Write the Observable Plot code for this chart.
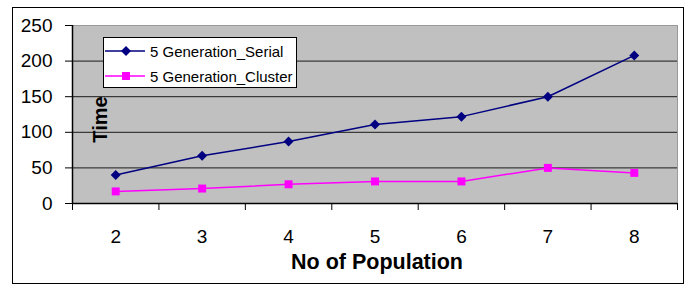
<!DOCTYPE html>
<html>
<head>
<meta charset="utf-8">
<script src="https://cdn.jsdelivr.net/npm/d3@7"></script>
<script src="https://cdn.jsdelivr.net/npm/@observablehq/plot@0.6"></script>
<style>
  body { margin: 0; background: #fff; font-family: "Liberation Sans", Arial, sans-serif; }
  #wrap { position: relative; width: 688px; height: 285px; }
  #border { position: absolute; left: 12px; top: 7px; width: 670px; height: 275px; border: 1.5px solid #000; pointer-events: none; }
  #legend { position: absolute; left: 103px; top: 37px; width: 192px; height: 49px; background: #fff; border: 1px solid #000; font-size: 15px; }
  .row { position: absolute; left: 1px; height: 16px; display: flex; align-items: center; }
  .row span { margin-left: 5px; color: #000; white-space: nowrap; }
</style>
</head>
<body>
<div id="wrap">
  <div id="chart"></div>
  <div id="border"></div>
  <div id="legend"></div>
</div>
<script>
const populations = [2, 3, 4, 5, 6, 7, 8];
const serialTimes = [40, 67, 87, 111, 122, 150, 208];
const clusterTimes = [17, 21, 27, 31, 31, 50, 43];
const yTicks = [0, 50, 100, 150, 200, 250];
const seriesNames = ["5 Generation_Serial", "5 Generation_Cluster"];
const seriesColors = ["#000080", "#ff00ff"];
const seriesSymbols = ["diamond2", "square"];

const rows = [];
populations.forEach((p, i) => {
  rows.push({pop: p, time: serialTimes[i], series: seriesNames[0]});
  rows.push({pop: p, time: clusterTimes[i], series: seriesNames[1]});
});
const serial = rows.filter(d => d.series === seriesNames[0]);
const cluster = rows.filter(d => d.series === seriesNames[1]);
const boundaries = [populations[0] - 0.5, ...populations.map(p => p + 0.5)];
const lo = populations[0] - 0.5, hi = populations[populations.length - 1] + 0.5;

const chart = Plot.plot({
  width: 688,
  height: 285,
  marginLeft: 72,
  marginTop: 25,
  marginRight: 11,
  marginBottom: 82,
  style: {fontFamily: "'Liberation Sans', Arial, sans-serif", background: "transparent", overflow: "visible"},
  x: {domain: [lo, hi], axis: null},
  y: {domain: [0, 250], axis: null},
  marks: [
    Plot.frame({fill: "#c0c0c0", stroke: "#9a9a9a"}),
    Plot.ruleY(yTicks.filter(t => t > 0 && t < 250), {stroke: "#1a1a1a", strokeWidth: 1}),
    Plot.ruleX([lo], {stroke: "#000", strokeWidth: 1.5}),
    Plot.ruleY([0], {stroke: "#000", strokeWidth: 1.5}),
    Plot.axisY({ticks: yTicks, tickSize: 7, tickPadding: 13, fontSize: 19, label: null, tickFormat: d => d, stroke: "#000"}),
    Plot.axisX(boundaries, {tickSize: 7, text: null, label: null, stroke: "#000"}),
    Plot.axisX(populations, {tickSize: 0, tickPadding: 26, fontSize: 19, label: null, tickFormat: d => d}),
    Plot.line(serial, {x: "pop", y: "time", stroke: seriesColors[0], strokeWidth: 1.5}),
    Plot.line(cluster, {x: "pop", y: "time", stroke: seriesColors[1], strokeWidth: 1.5}),
    Plot.dot(serial, {x: "pop", y: "time", symbol: seriesSymbols[0], r: 4.5, fill: seriesColors[0], stroke: "none"}),
    Plot.dot(cluster, {x: "pop", y: "time", symbol: seriesSymbols[1], r: 4.5, fill: seriesColors[1], stroke: "none"}),
    Plot.text(["Time"], {frameAnchor: "left", textAnchor: "middle", lineAnchor: "middle", dx: 28, dy: 5, rotate: -90, fontSize: 20, fontWeight: "bold", fill: "#000"}),
    Plot.text(["No of Population"], {frameAnchor: "bottom", textAnchor: "middle", lineAnchor: "middle", dy: 59, dx: 2, fontSize: 21.5, fontWeight: "bold", fill: "#000"})
  ]
});
document.getElementById("chart").appendChild(chart);

const legend = document.getElementById("legend");
seriesNames.forEach((name, i) => {
  const row = document.createElement("div");
  row.className = "row";
  row.style.top = (5 + i * 25) + "px";
  const sym = i === 0
    ? `<path d="M21,3 L26,8 L21,13 L16,8 Z" fill="${seriesColors[i]}"/>`
    : `<rect x="17" y="4" width="8" height="8" fill="${seriesColors[i]}"/>`;
  row.innerHTML = `<svg width="40" height="16"><line x1="0" y1="8" x2="40" y2="8" stroke="${seriesColors[i]}" stroke-width="1.5"/>${sym}</svg><span>${name}</span>`;
  legend.appendChild(row);
});
</script>
</body>
</html>
